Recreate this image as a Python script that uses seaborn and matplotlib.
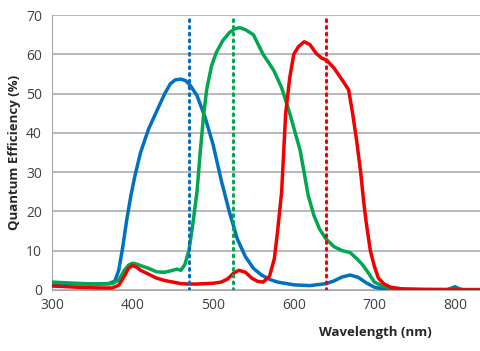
import matplotlib
matplotlib.use("Agg")
import matplotlib.pyplot as plt
import pandas as pd
import seaborn as sns

# Blue channel
blue_wl = [300, 320, 340, 360, 370, 378, 383, 388, 393, 398, 403, 410, 420, 430, 440, 447, 453, 460, 466,
           472, 480, 490, 500, 510, 520, 530, 540, 550, 560, 570, 580, 600, 620, 640, 650, 660, 670, 680,
           690, 700, 710, 720, 760, 790, 795, 800, 805, 810, 830]
blue_qe = [1.7, 1.6, 1.5, 1.5, 1.6, 2.2, 5, 11, 18, 24, 29, 35, 41, 45.5, 50, 52.5, 53.5, 53.7, 53.3,
           52, 49.5, 44, 37, 28, 20, 13, 8.5, 5.5, 3.8, 2.7, 2, 1.3, 1.1, 1.6, 2.3, 3.3, 3.8, 3.2,
           1.8, 0.7, 0.3, 0.2, 0.1, 0.1, 0.4, 0.8, 0.3, 0.1, 0.1]

# Green channel
green_wl = [300, 320, 340, 360, 375, 383, 390, 395, 400, 405, 410, 420, 430, 440, 450, 455, 460, 465, 470,
            475, 480, 484, 488, 492, 498, 504, 512, 520, 527, 533, 540, 550, 562, 575, 585, 595, 608, 618,
            625, 632, 640, 650, 660, 670, 678, 685, 692, 700, 710, 720, 740, 830]
green_qe = [2, 1.8, 1.6, 1.5, 1.6, 2.5, 5, 6.3, 6.8, 6.6, 6.2, 5.5, 4.6, 4.5, 5, 5.3, 5, 6.5, 10,
            17, 25, 35, 44, 51, 57, 60.5, 63.5, 65.5, 66.5, 66.8, 66.3, 65, 60, 56, 51.5, 45, 35.5, 24,
            19, 15.5, 13, 11, 10, 9.5, 8, 6.5, 4.5, 2, 1, 0.5, 0.2, 0]

# Red channel
red_wl = [300, 320, 340, 360, 375, 383, 390, 395, 400, 405, 410, 420, 430, 440, 450, 460, 470, 480, 490,
          500, 510, 518, 525, 532, 540, 548, 555, 562, 570, 576, 580, 585, 590, 595, 600, 606, 613, 620,
          628, 635, 641, 650, 660, 668, 673, 678, 683, 687, 690, 695, 700, 705, 712, 720, 735, 760, 830]
red_qe = [1, 0.8, 0.6, 0.5, 0.5, 1.2, 3.5, 5.5, 6.2, 5.8, 5, 4, 3, 2.4, 2, 1.6, 1.5, 1.5, 1.6,
          1.7, 2, 2.8, 4.2, 5, 4.5, 3, 2.2, 2, 3.5, 8, 15, 25, 45, 54, 60, 62, 63.2, 62.5,
          60.2, 59, 58.5, 56.5, 53.5, 51, 45, 38, 30, 22, 17, 10, 6, 3, 1.5, 0.7, 0.2, 0.05, 0]

# peak markers (dotted)
marker_wl = [470, 525, 640]
colors = ['#0070C0', '#00A650', '#F00000']

sns.set_style('white')
plt.rcParams['font.family'] = ['Open Sans', 'DejaVu Sans']

fig = plt.figure(figsize=(4.8, 3.51), dpi=100)
ax = fig.add_axes([0.108, 0.174, 0.892, 0.783])

for wl, qe, c in zip([blue_wl, green_wl, red_wl], [blue_qe, green_qe, red_qe], colors):
    df = pd.DataFrame({'wl': wl, 'qe': qe})
    sns.lineplot(data=df, x='wl', y='qe', color=c, linewidth=2.5, ax=ax,
                 solid_joinstyle='round', solid_capstyle='round', zorder=3)

for x, c in zip(marker_wl, colors):
    ax.plot([x, x], [0, 70], color=c, linestyle=(0, (0.6, 1.6)), linewidth=2.2,
            dash_capstyle='round', zorder=4)

ax.set_xlim(300, 831)
ax.set_ylim(0, 70)
ax.set_xticks([300, 400, 500, 600, 700, 800])
ax.set_yticks(range(0, 71, 10))
ax.grid(axis='y', color='#A6A6A6', linewidth=1.1)
ax.grid(axis='x', visible=False)
for s in ['top', 'right']:
    ax.spines[s].set_visible(False)
ax.spines['left'].set_color('#A6A6A6')
ax.spines['bottom'].set_color('#A6A6A6')
ax.tick_params(axis='y', length=4, color='#A6A6A6', labelsize=10, labelcolor='#404040', pad=3)
ax.tick_params(axis='x', length=0, labelsize=10, labelcolor='#404040', pad=6)

ax.set_ylabel('Quantum Efficiency (%)', fontsize=9.5, fontweight='bold', labelpad=4)
ax.set_xlabel('Wavelength (nm)', fontsize=9.5, fontweight='bold')
ax.xaxis.set_label_coords(0.755, -0.13)

plt.savefig('out.png', dpi=100)
